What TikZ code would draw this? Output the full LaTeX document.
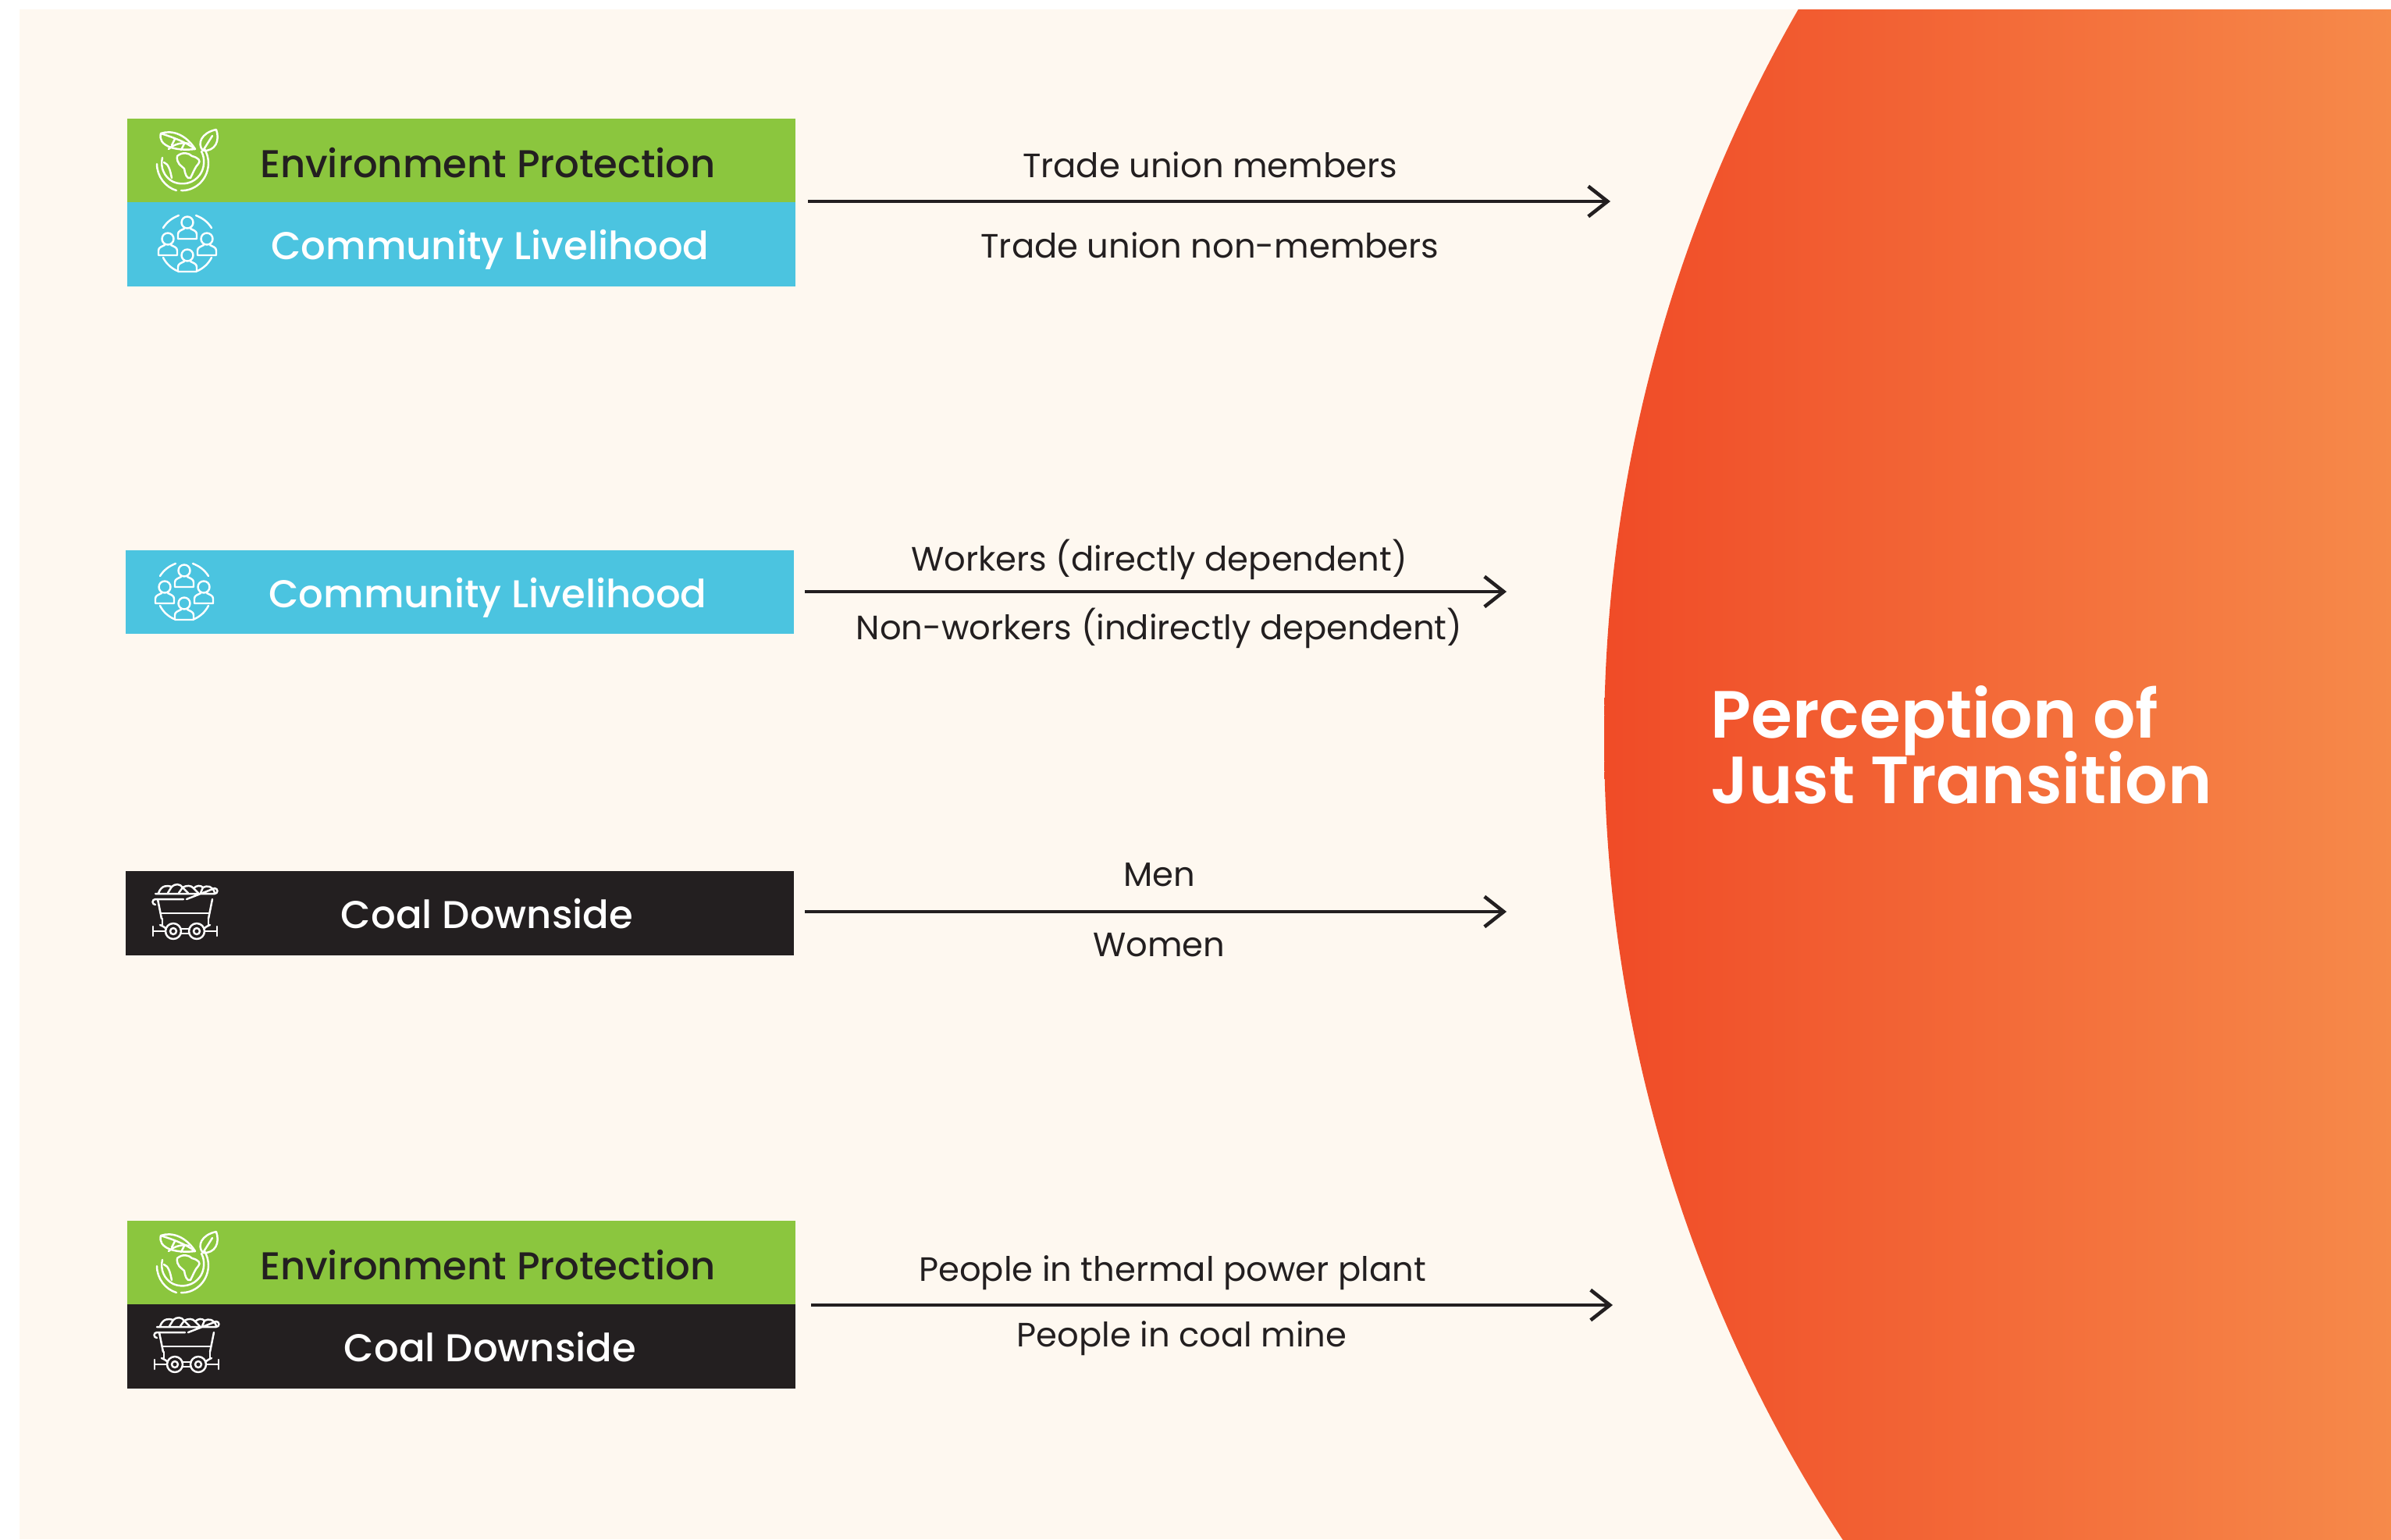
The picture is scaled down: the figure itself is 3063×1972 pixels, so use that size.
\documentclass[tikz,border=0pt]{standalone}
\usepackage{fontspec}
\usetikzlibrary{arrows.meta}
\newfontfamily\popreg{Poppins}
\newfontfamily\popmed{Poppins Medium}
\newfontfamily\popsemi{Poppins SemiBold}
\definecolor{paper}{HTML}{FEF8F0}
\definecolor{leaf}{HTML}{8BC63E}
\definecolor{sky}{HTML}{4BC4E0}
\definecolor{ink}{HTML}{231F20}
\definecolor{sunA}{HTML}{F04B27}
\definecolor{sunB}{HTML}{F68A4A}
\tikzset{
  bar/.style={minimum width=8.56cm,minimum height=1.075cm,inner sep=0pt,outer sep=0pt,draw=none},
  barlabel/.style={anchor=base,inner sep=0pt,font=\popmed\fontsize{14.13pt}{16pt}\selectfont},
  sidelabel/.style={anchor=base,inner sep=0pt,text=ink,font=\popreg\fontsize{12.3pt}{14pt}\selectfont},
  flow/.style={draw=ink,line width=1.3pt,-{Straight Barb[length=7pt,width=11pt,line width=1.3pt]}},
  icon/.style={draw=white,line width=0.7pt,line cap=round,line join=round,fill=none},
}
\newcommand{\earthicon}[2]{%
  \begin{scope}[shift={(#1,#2)},icon]
    \draw (-26,-6) .. controls (-29,6) and (-24,19) .. (-12,25) .. controls (0,30) and (14,27) .. (22,16) .. controls (28,8) and (29,-5) .. (24,-14);
    \draw (-33,2) .. controls (-33,18) and (-22,32) .. (-8,36);
    \draw (-2,36) .. controls (14,37) and (32,24) .. (33,2) .. controls (33,-6) and (31,-12) .. (28,-17);
    \draw (-18,-17) .. controls (-10,-24) and (0,-26) .. (8,-24);
    \draw (-7,-8) .. controls (0,-14) and (8,-12) .. (12,-8) .. controls (20,-6) and (24,-2) .. (20,2) .. controls (16,6) and (14,12) .. (10,20) .. controls (5,22) and (3,14) .. (2,8) .. controls (-2,4) and (-8,2) .. (-7,-8) -- cycle;
    \draw (-24,0) .. controls (-18,2) and (-16,10) .. (-14,20);
    \draw (16,-17) .. controls (4,-36) and (-14,-42) .. (-28,-37) .. controls (-32,-22) and (-12,-14) .. (16,-17) -- cycle;
    \draw (16,-17) .. controls (4,-26) and (-12,-32) .. (-28,-37);
    \draw (-10,-30) -- (-14,-22);
    \draw (2,-24) -- (-2,-16);
    \draw (26,-15) .. controls (18,-24) and (24,-38) .. (43,-42) .. controls (48,-28) and (42,-14) .. (26,-15) -- cycle;
    \draw (26,-15) -- (38,-34);
  \end{scope}}
\newcommand{\person}[2]{%
  \draw (#1,#2) circle[radius=7.5];
  \draw (#1-12,#2+21) -- (#1-12,#2+15) .. controls (#1-12,#2+11) and (#1-8,#2+10) .. (#1-4,#2+8)
        (#1+4,#2+8) .. controls (#1+8,#2+10) and (#1+12,#2+11) .. (#1+12,#2+15) -- (#1+12,#2+21) -- (#1-12,#2+21);}
\newcommand{\peopleicon}[2]{%
  \begin{scope}[shift={(#1,#2)},icon]
    \person{0}{-27}
    \person{-25}{-6}
    \person{25}{-6}
    \person{0}{15}
    \draw (-31,-20) .. controls (-26,-28) and (-19,-33) .. (-11,-36);
    \draw (11,-36) .. controls (19,-33) and (26,-28) .. (31,-20);
    \draw (-31,18) .. controls (-27,26) and (-20,32) .. (-13,35);
    \draw (13,35) .. controls (20,32) and (27,26) .. (31,18);
  \end{scope}}
\newcommand{\carticon}[2]{%
  \begin{scope}[shift={(#1,#2)},icon]
    \draw (-38,-20) -- (38,-20) arc[start angle=90,end angle=-90,radius=3.5] -- (2,-13) (-2,-13) -- (-38,-13) arc[start angle=270,end angle=90,radius=3.5];
    \draw (-34,-21) .. controls (-30,-31) and (-23,-31) .. (-17,-29) .. controls (-13,-33) and (-6,-33) .. (-3,-28) .. controls (2,-31) and (8,-31) .. (11,-27) .. controls (15,-31) and (20,-31) .. (23,-28) .. controls (28,-31) and (36,-30) .. (38,-21);
    \draw (-17,-29) -- (-22,-21) (-3,-28) -- (-8,-21) (-3,-28) -- (4,-21) (11,-27) -- (17,-21) (23,-28) -- (20,-21);
    \draw (-35,-13) -- (-30,12) (35,-13) -- (30,12);
    \draw (-30,5) -- (30,5);
    \draw (-29,12) -- (-29,20) (30,12) -- (30,20);
    \draw (-15,28) circle[radius=10] (-15,28) circle[radius=4];
    \draw (15,28) circle[radius=10] (15,28) circle[radius=4];
    \draw (-5,25) -- (5,25) (-5,31) -- (5,31);
    \draw (-41,28) -- (-25,28) (25,28) -- (41,28);
    \draw (-41,22) -- (-41,34) (41,22) -- (41,34);
    \draw (-32,20) .. controls (-27,22) and (-25,24) .. (-24,25) (32,20) .. controls (27,22) and (25,24) .. (24,25);
  \end{scope}}
\begin{document}
\begin{tikzpicture}[x=0.01cm,y=-0.01cm]
  \useasboundingbox (0,0) rectangle (3063,1972);
  \fill[paper] (25,12) rectangle (3063,1972);
  \begin{scope}
    \clip (25,12) rectangle (3063,1972);
    \clip (3931,946) circle[radius=1876];
    \shade[left color=sunA,right color=sunB] (2055,12) rectangle (3063,1972);
  \end{scope}

  % row 1
  \node[bar,fill=leaf] (env1) at (591,205.5) {};
  \node[bar,fill=sky] (com1) at (591,313) {};
  \node[barlabel,text=ink] (env1t) at (625,227) {Environment Protection};
  \node[barlabel,text=white] (com1t) at (628,332) {Community Livelihood};
  \earthicon{234}{208}
  \peopleicon{240}{312}
  \coordinate (s1) at (1035,258);
  \coordinate (e1) at (2063,258);
  \draw[flow] (s1) -- (e1);
  \node[sidelabel] (t1a) at (1550,227) {Trade union members};
  \node[sidelabel] (t1b) at (1550,330) {Trade union non-members};

  % row 2
  \node[bar,fill=sky] (com2) at (589,758.5) {};
  \node[barlabel,text=white] (com2t) at (625,778) {Community Livelihood};
  \peopleicon{236}{758}
  \coordinate (s2) at (1031,758);
  \coordinate (e2) at (1930,758);
  \draw[flow] (s2) -- (e2);
  \node[sidelabel] (t2a) at (1485,731) {Workers (directly dependent)};
  \node[sidelabel] (t2b) at (1485,819) {Non-workers (indirectly dependent)};

  % row 3
  \node[bar,fill=ink] (coal1) at (589,1170) {};
  \node[barlabel,text=white] (coal1t) at (624,1189) {Coal Downside};
  \carticon{237}{1165}
  \coordinate (s3) at (1031,1168);
  \coordinate (e3) at (1930,1168);
  \draw[flow] (s3) -- (e3);
  \node[sidelabel] (t3a) at (1485,1135) {Men};
  \node[sidelabel] (t3b) at (1485,1225) {Women};

  % row 4
  \node[bar,fill=leaf] (env2) at (591,1617.5) {};
  \node[bar,fill=ink] (coal2) at (591,1725) {};
  \node[barlabel,text=ink] (env2t) at (625,1639) {Environment Protection};
  \node[barlabel,text=white] (coal2t) at (628,1744) {Coal Downside};
  \earthicon{234}{1620}
  \carticon{239}{1720}
  \coordinate (s4) at (1039,1672);
  \coordinate (e4) at (2066,1672);
  \draw[flow] (s4) -- (e4);
  \node[sidelabel] (t4a) at (1502,1641) {People in thermal power plant};
  \node[sidelabel] (t4b) at (1514,1725) {People in coal mine};

  % title
  \node[anchor=south west,inner sep=0pt,text=white,align=left,font=\popsemi\fontsize{24.3pt}{23.9pt}\selectfont] (title) at (2191,1031) {Perception of\\[-2.7pt]Just Transition};
\end{tikzpicture}
\end{document}
